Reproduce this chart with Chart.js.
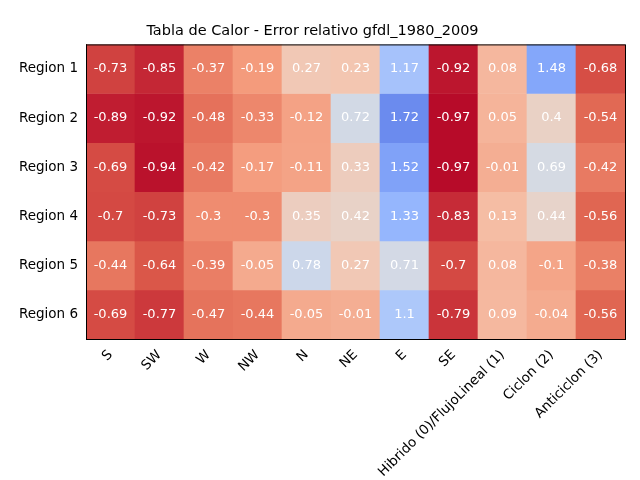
<!DOCTYPE html>
<html><head><meta charset="utf-8">
<script src="https://cdn.jsdelivr.net/npm/chart.js@4"></script>
<style>body{margin:0;background:#fff}#c{width:640px;height:480px}</style>
</head><body><div id="c"><canvas id="chart" width="640" height="480"></canvas></div>
<script>
const columns = ["S","SW","W","NW","N","NE","E","SE","Hibrido (0)/FlujoLineal (1)","Ciclon (2)","Anticiclon (3)"];
const regions = ["Region 1","Region 2","Region 3","Region 4","Region 5","Region 6"];
const region1 = [-0.73,-0.85,-0.37,-0.19,0.27,0.23,1.17,-0.92,0.08,1.48,-0.68];
const region2 = [-0.89,-0.92,-0.48,-0.33,-0.12,0.72,1.72,-0.97,0.05,0.4,-0.54];
const region3 = [-0.69,-0.94,-0.42,-0.17,-0.11,0.33,1.52,-0.97,-0.01,0.69,-0.42];
const region4 = [-0.7,-0.73,-0.3,-0.3,0.35,0.42,1.33,-0.83,0.13,0.44,-0.56];
const region5 = [-0.44,-0.64,-0.39,-0.05,0.78,0.27,0.71,-0.7,0.08,-0.1,-0.38];
const region6 = [-0.69,-0.77,-0.47,-0.44,-0.05,-0.01,1.1,-0.79,0.09,-0.04,-0.56];
const values = [region1,region2,region3,region4,region5,region6];

// coolwarm, reversed so negatives are red
const stops = [[59,76,192],[98,130,234],[141,176,254],[184,208,249],[221,221,221],[245,196,173],[244,154,123],[222,96,77],[180,4,38]];
function colorFor(v){
    let t = 1-(v+1)/3.2;
    t = Math.max(0,Math.min(1,t))*(stops.length-1);
    let i = Math.min(Math.floor(t),stops.length-2), f = t-i;
    let c = stops[i].map((a,k)=>Math.round(a+(stops[i+1][k]-a)*f));
    return `rgb(${c[0]},${c[1]},${c[2]})`;
}

const datasets = values.map((row,r)=>({
    label: regions[r],
    data: row.map(()=>[r, r+1]),
    backgroundColor: row.map(colorFor),
    borderWidth: 0,
    barPercentage: 1,
    categoryPercentage: 1
}));

const cellText = {
    id:'cellText',
    afterDatasetsDraw(chart){
        const ctx = chart.ctx;
        ctx.save();
        ctx.fillStyle = '#fff';
        ctx.font = '13px "DejaVu Sans"';
        ctx.textAlign = 'center';
        ctx.textBaseline = 'middle';
        values.forEach((row,r)=>{
            chart.getDatasetMeta(r).data.forEach((bar,i)=>{
                ctx.fillText(String(row[i]), bar.x, (bar.y+bar.base)/2);
            });
        });
        const a = chart.chartArea;
        ctx.strokeStyle = '#000';
        ctx.lineWidth = 1;
        ctx.strokeRect(a.left+0.5,a.top+0.5,a.right-a.left,a.bottom-a.top);
        ctx.restore();
    }
};

new Chart(document.getElementById('chart'),{
    type:'bar',
    data:{labels:columns,datasets:datasets},
    plugins:[cellText],
    options:{
        responsive:false,
        animation:false,
        layout:{padding:{left:0,right:15,top:0,bottom:0}},
        plugins:{
            legend:{display:false},
            tooltip:{enabled:false},
            title:{display:true,text:'Tabla de Calor - Error relativo gfdl_1980_2009',color:'#000',
                font:{family:'DejaVu Sans',size:14.5,weight:'normal'},padding:{top:23,bottom:4}}
        },
        scales:{
            x:{stacked:true,grid:{display:false,drawTicks:true,tickLength:5},border:{color:'#000'},
                ticks:{color:'#000',font:{family:'DejaVu Sans',size:13.5},minRotation:45,maxRotation:45,autoSkip:false},
                afterFit(s){s.height=141;}},
            y:{min:0,max:6,reverse:true,grid:{display:false,tickLength:5},border:{color:'#000'},
                afterBuildTicks(s){s.ticks=regions.map((_,i)=>({value:i+0.5}));},
                ticks:{color:'#000',font:{family:'DejaVu Sans',size:13.5},callback:(v,i)=>regions[i]},
                afterFit(s){s.width=86;}}
        }
    }
});
</script></body></html>
